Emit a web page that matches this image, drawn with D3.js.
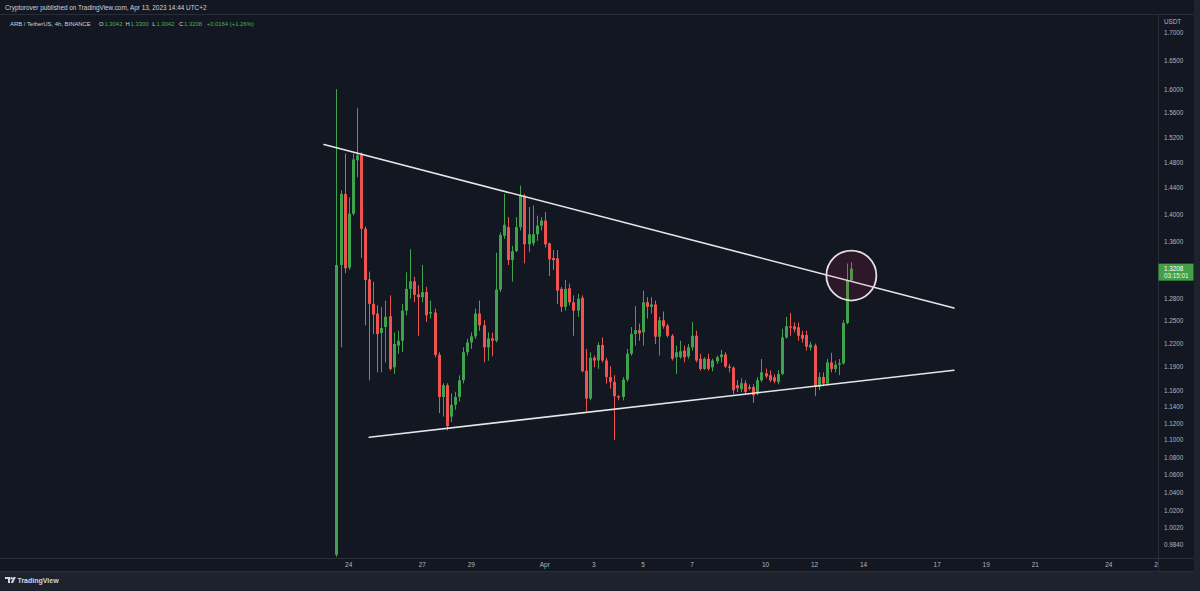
<!DOCTYPE html>
<html><head><meta charset="utf-8">
<script src="https://cdn.jsdelivr.net/npm/d3@7"></script>
<style>
html,body{margin:0;padding:0;background:#131722;overflow:hidden;}
svg{display:block;font-family:"Liberation Sans",Arial,sans-serif;}
</style>
</head><body>
<svg id="c" width="1200" height="591"></svg>
<script>
// ---- data (4h candles, ARB/USDT, times shown in UTC+2) ----
const firstCandle = "2023-03-23T16:00"; // centre of first 4h bar
const opens = [0.973,1.326,1.4305,1.3222,1.4006,1.4827,1.4923,1.3782,1.3058,1.2721,
1.259,1.233,1.241,1.2553,1.1887,1.2166,1.2229,1.2629,1.2926,1.303,
1.285,1.2811,1.2881,1.259,1.2603,1.2046,1.1517,1.1662,1.1278,1.1421,
1.1517,1.1724,1.208,1.2208,1.2286,1.259,1.2433,1.2144,1.226,1.2229,
1.2916,1.368,1.3806,1.3329,1.3457,1.3806,1.4277,1.3556,1.3571,1.3702,
1.3828,1.3904,1.3571,1.3359,1.3354,1.2926,1.268,1.2935,1.2743,1.2629,
1.2803,1.1845,1.1497,1.2009,1.1974,1.2174,1.1974,1.1764,1.1704,1.1526,
1.1517,1.1732,1.206,1.2317,1.2369,1.2339,1.2743,1.268,1.2712,1.2282,
1.25,1.2428,1.2295,1.2016,1.2016,1.2102,1.2025,1.2144,1.2295,1.1996,
1.1867,1.1996,1.1887,1.1965,1.2016,1.2051,1.1896,1.1883,1.1662,1.1612,
1.1687,1.164,1.164,1.1559,1.1724,1.1812,1.1787,1.1762,1.1704,1.1803,
1.2273,1.2419,1.2419,1.2406,1.2308,1.2304,1.214,1.2166,1.164,1.1764,
1.1683,1.195,1.1867,1.1921,1.1938,1.2464,1.3042];
const highs = [1.600,1.436,1.4934,1.4254,1.4934,1.5677,1.4955,1.3815,1.3166,1.3025,
1.27,1.268,1.2765,1.2836,1.2339,1.236,1.2721,1.3157,1.3484,1.3094,
1.2976,1.326,1.2953,1.2765,1.2656,1.208,1.1687,1.1687,1.156,1.158,
1.1787,1.2144,1.2256,1.2339,1.2656,1.2765,1.25,1.2339,1.2335,1.3434,
1.3729,1.4305,1.3955,1.3532,1.3955,1.4431,1.4305,1.4105,1.4131,1.3977,
1.3955,1.4031,1.358,1.3473,1.3473,1.2953,1.3048,1.3,1.2836,1.2857,
1.2836,1.2123,1.208,1.2037,1.2208,1.2273,1.2009,1.19,1.1787,1.1538,
1.1764,1.2123,1.241,1.269,1.2455,1.2902,1.2811,1.2811,1.2765,1.2545,
1.2618,1.2455,1.2317,1.2166,1.2229,1.2166,1.2187,1.2478,1.236,1.206,
1.2016,1.206,1.1996,1.2037,1.211,1.208,1.1931,1.19,1.1724,1.1749,
1.1724,1.1674,1.1674,1.1762,1.1993,1.1871,1.1849,1.1799,1.1849,1.2386,
1.2545,1.2598,1.2471,1.2471,1.236,1.236,1.2217,1.2191,1.1824,1.1824,
1.1997,1.2073,1.1971,1.1993,1.25,1.328,1.33];
const lows = [0.971,1.2144,1.3144,1.319,1.398,1.4563,1.3359,1.2433,1.1724,1.2317,
1.1824,1.1824,1.195,1.1845,1.1803,1.206,1.208,1.2566,1.2789,1.2743,
1.2295,1.2743,1.2478,1.2523,1.2013,1.132,1.1278,1.1113,1.1213,1.136,
1.146,1.1683,1.2037,1.2123,1.2252,1.236,1.195,1.1971,1.2028,1.2208,
1.2881,1.3634,1.326,1.3025,1.3443,1.3757,1.3283,1.3443,1.3532,1.3605,
1.3757,1.351,1.3105,1.319,1.2721,1.2611,1.2629,1.27,1.2295,1.2545,
1.1824,1.1338,1.1476,1.1887,1.1867,1.195,1.1683,1.162,1.10,1.1476,
1.1476,1.1704,1.2037,1.2166,1.2229,1.2166,1.2523,1.259,1.2187,1.2037,
1.2388,1.2273,1.1974,1.1803,1.1996,1.195,1.1996,1.2102,1.195,1.1845,
1.1854,1.1845,1.1836,1.1931,1.195,1.188,1.1824,1.1551,1.1575,1.1575,
1.1551,1.16,1.1445,1.1538,1.17,1.1747,1.17,1.1687,1.1674,1.1787,
1.2256,1.2295,1.2339,1.2229,1.2205,1.2102,1.2102,1.1526,1.16,1.1649,
1.1662,1.1824,1.1824,1.1787,1.1921,1.2447,1.3042];
const closes = [1.326,1.4305,1.3214,1.4006,1.4843,1.4907,1.3782,1.3048,1.2721,1.2576,
1.2317,1.2397,1.2545,1.1867,1.2187,1.2229,1.2629,1.2926,1.303,1.2844,
1.2811,1.2881,1.2566,1.2611,1.2046,1.1517,1.1662,1.1165,1.1421,1.1517,
1.1724,1.208,1.2208,1.2286,1.259,1.2433,1.2144,1.226,1.2229,1.2916,
1.369,1.3841,1.3329,1.3457,1.3806,1.4277,1.3556,1.3702,1.3702,1.3828,
1.3904,1.3556,1.3339,1.3329,1.2902,1.268,1.2926,1.2743,1.2629,1.2789,
1.1836,1.1497,1.2009,1.1974,1.2174,1.1974,1.1764,1.1704,1.1526,1.151,
1.1732,1.206,1.2317,1.2369,1.2325,1.2743,1.268,1.2712,1.2282,1.25,
1.2419,1.2295,1.1996,1.208,1.2093,1.2016,1.2144,1.2295,1.1974,1.1867,
1.1996,1.1867,1.1974,1.2016,1.2051,1.1896,1.188,1.16,1.1625,1.1687,
1.1579,1.162,1.1538,1.1724,1.1824,1.1772,1.1724,1.1712,1.1803,1.2273,
1.2419,1.2402,1.2379,1.2295,1.2256,1.2153,1.2178,1.164,1.1764,1.1683,
1.195,1.1867,1.1921,1.1938,1.2464,1.3042,1.3208];

const yTicks = [1.7,1.65,1.6,1.56,1.52,1.48,1.44,1.40,1.36,1.28,1.25,1.22,1.19,1.16,1.14,1.12,1.10,1.08,1.06,1.04,1.02,1.002,0.984];
const xTickDays = ["2023-03-24","2023-03-27","2023-03-29","2023-04-01","2023-04-03","2023-04-05","2023-04-07","2023-04-10","2023-04-12","2023-04-14","2023-04-17","2023-04-19","2023-04-21","2023-04-24","2023-04-26"];
const xTickLabels = ["24","27","29","Apr","3","5","7","10","12","14","17","19","21","24","26"];

const upperTrend = [["2023-03-23T03:50",1.508],["2023-04-17T20:25",1.2664]];
const lowerTrend = [["2023-03-25T00:10",1.1031],["2023-04-17T20:25",1.185]];
const circleAt = ["2023-04-13T16:00",1.3111];

const lastPrice = 1.3208, countdown = "03:15:01";
const titleLine = "Cryptorover published on TradingView.com, Apr 13, 2023 14:44 UTC+2";
const symbolLine = "ARB / TetherUS, 4h, BINANCE";
const ohlcLabels = ["O","H","L","C"];
const ohlcValues = ["1.3042","1.3300","1.3042","1.3208"];
const changeText = "+0.0164 (+1.26%)";
const currency = "USDT";

// ---- layout ----
const W=1200,H=591;
const paneL=0, paneR=1158, paneT=15, paneB=558, axisB=571, frameR=1194;
const C = {bg:"#131722", outer:"#1e222d", border:"#2a2e39", text:"#b2b5be", up:"#3fa34d", down:"#ef5350", white:"#e6e6e6"};

const parseT = d3.utcParse("%Y-%m-%dT%H:%M");
const parseD = d3.utcParse("%Y-%m-%d");
const t0 = parseT(firstCandle);
const candles = opens.map((o,i)=>({t:new Date(t0.getTime()+i*4*3600e3),o,h:highs[i],l:lows[i],c:closes[i]}));

const x = d3.scaleUtc().domain([parseD("2023-03-23"),parseD("2023-04-27")]).range([320.09,1178.3]);
const y = d3.scaleLog().domain([0.984,1.7]).range([544.3,32.3]);

const svg = d3.select("#c");
svg.append("rect").attr("width",W).attr("height",H).attr("fill",C.outer);
svg.append("rect").attr("x",0).attr("y",0).attr("width",frameR).attr("height",axisB).attr("fill",C.bg);
svg.append("line").attr("x1",0).attr("x2",frameR).attr("y1",paneT-0.5).attr("y2",paneT-0.5).attr("stroke",C.border);

const defs = svg.append("defs");
defs.append("clipPath").attr("id","pane").append("rect").attr("x",paneL).attr("y",paneT).attr("width",paneR-paneL).attr("height",paneB-paneT);
defs.append("clipPath").attr("id","taxis").append("rect").attr("x",0).attr("y",paneB).attr("width",paneR).attr("height",axisB-paneB);

const g = svg.append("g").attr("clip-path","url(#pane)");

// candles
const cg = g.append("g");
const bw = 3;
cg.selectAll("line.w").data(candles).join("line")
  .attr("x1",d=>Math.round(x(d.t))+0.5).attr("x2",d=>Math.round(x(d.t))+0.5)
  .attr("y1",d=>y(d.h)).attr("y2",d=>y(d.l))
  .attr("stroke",d=>d.c>=d.o?C.up:C.down).attr("stroke-width",1);
cg.selectAll("rect.b").data(candles).join("rect")
  .attr("x",d=>Math.round(x(d.t))-1).attr("width",bw)
  .attr("y",d=>y(Math.max(d.o,d.c)))
  .attr("height",d=>Math.max(1,Math.abs(y(d.o)-y(d.c))))
  .attr("fill",d=>d.c>=d.o?C.up:C.down);

// trend lines
[upperTrend,lowerTrend].forEach(tl=>{
  g.append("line")
   .attr("x1",x(parseT(tl[0][0]))).attr("y1",y(tl[0][1]))
   .attr("x2",x(parseT(tl[1][0]))).attr("y2",y(tl[1][1]))
   .attr("stroke",C.white).attr("stroke-width",1.6).attr("stroke-linecap","round");
});

// circle highlight
g.append("circle").attr("cx",x(parseT(circleAt[0]))).attr("cy",y(circleAt[1])).attr("r",25)
  .attr("fill","rgba(233,30,99,0.12)").attr("stroke","#e3dfe0").attr("stroke-width",1.8);

// axes frame
svg.append("line").attr("x1",paneR+0.5).attr("x2",paneR+0.5).attr("y1",paneT).attr("y2",axisB).attr("stroke",C.border);
svg.append("line").attr("x1",0).attr("x2",frameR).attr("y1",paneB+0.5).attr("y2",paneB+0.5).attr("stroke",C.border);
svg.append("line").attr("x1",0).attr("x2",frameR).attr("y1",axisB+0.5).attr("y2",axisB+0.5).attr("stroke",C.border);

const yAxis = d3.axisRight(y).tickValues(yTicks).tickFormat(d3.format(".4f")).tickSize(0).tickPadding(6);
const ya = svg.append("g").attr("transform",`translate(${paneR},0)`).call(yAxis);
ya.select(".domain").remove();
ya.selectAll("text").attr("fill",C.text).attr("font-size",6.3).attr("x",6);

svg.append("text").attr("x",1164).attr("y",23.5).text(currency).attr("fill",C.text).attr("font-size",6.3);

// last price label
const ly = y(lastPrice);
svg.append("rect").attr("x",paneR+0.5).attr("y",ly-5).attr("width",35).attr("height",17).attr("fill","#43a047");
svg.append("text").attr("x",1164).attr("y",ly+2.2).text(d3.format(".4f")(lastPrice)).attr("fill","#ffffff").attr("font-size",6.3);
svg.append("text").attr("x",1164).attr("y",ly+9.5).text(countdown).attr("fill","#e8f5e9").attr("font-size",6.3);

// time axis
const xa = svg.append("g").attr("clip-path","url(#taxis)");
xa.selectAll("text").data(xTickDays).join("text")
  .attr("x",d=>x(new Date(parseD(d).getTime()+4*3600e3)))
  .attr("y",566.8).attr("text-anchor","middle")
  .attr("fill",C.text).attr("font-size",6.5)
  .text((d,i)=>xTickLabels[i]);

// header
svg.append("text").attr("x",5).attr("y",9.6).text(titleLine).attr("fill","#d1d4dc").attr("font-size",6.4);
const h2 = svg.append("text").attr("x",10).attr("y",25.6).attr("font-size",5.9).attr("fill","#d1d4dc");
h2.append("tspan").text(symbolLine);
const ox=[99,125.5,152.3,179];
ohlcLabels.forEach((l,i)=>{
  h2.append("tspan").attr("x",ox[i]).text(l);
  h2.append("tspan").attr("dx",0.8).attr("fill","#4caf50").text(ohlcValues[i]);
});
h2.append("tspan").attr("x",206.7).attr("fill","#4caf50").text(changeText);

// TradingView logo footer
const lg = svg.append("g").attr("transform","translate(5,577)");
lg.append("path").attr("d","M0,0h5v6h-2v-4h-3z").attr("fill","#d1d4dc");
lg.append("circle").attr("cx",6.5).attr("cy",1.2).attr("r",1.2).attr("fill","#d1d4dc");
lg.append("path").attr("d","M8.5,0h2.4l-2.8,6h-2.4z").attr("fill","#d1d4dc");
svg.append("text").attr("x",17.5).attr("y",583).text("TradingView").attr("fill","#d1d4dc").attr("font-size",7).attr("font-weight","bold");
</script>
</body></html>
